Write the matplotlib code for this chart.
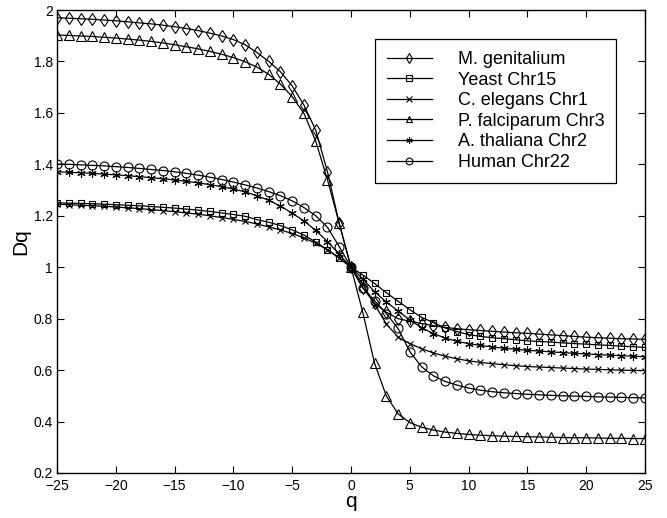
import matplotlib
matplotlib.use("Agg")
import matplotlib.pyplot as plt
from matplotlib.ticker import FuncFormatter

plt.rcParams['font.family'] = ['Liberation Sans', 'DejaVu Sans']

q = list(range(-25, 26))

m_genitalium = [1.970, 1.968, 1.966, 1.964, 1.961, 1.958, 1.954, 1.950, 1.946, 1.941,
                1.935, 1.928, 1.920, 1.910, 1.899, 1.885, 1.865, 1.835, 1.800, 1.760,
                1.705, 1.630, 1.533, 1.371, 1.170, 1.000,
                0.920, 0.860, 0.825, 0.800, 0.790, 0.781, 0.773, 0.766, 0.761, 0.757,
                0.754, 0.751, 0.748, 0.745, 0.743, 0.740, 0.737, 0.734, 0.731, 0.728,
                0.726, 0.724, 0.722, 0.721, 0.720]

yeast_chr15 = [1.250, 1.249, 1.248, 1.247, 1.245, 1.243, 1.241, 1.239, 1.236, 1.233,
               1.230, 1.226, 1.222, 1.217, 1.211, 1.205, 1.198, 1.185, 1.175, 1.162,
               1.145, 1.125, 1.098, 1.068, 1.035, 1.000,
               0.970, 0.937, 0.901, 0.868, 0.835, 0.805, 0.785, 0.764, 0.750, 0.738,
               0.731, 0.726, 0.722, 0.718, 0.714, 0.711, 0.709, 0.706, 0.703, 0.701,
               0.698, 0.696, 0.693, 0.691, 0.688]

c_elegans_chr1 = [1.245, 1.243, 1.241, 1.239, 1.237, 1.234, 1.231, 1.228, 1.224, 1.220,
                  1.216, 1.211, 1.206, 1.200, 1.193, 1.186, 1.178, 1.168, 1.157, 1.145,
                  1.131, 1.114, 1.093, 1.068, 1.037, 1.000,
                  0.935, 0.855, 0.780, 0.728, 0.703, 0.683, 0.667, 0.654, 0.644, 0.636,
                  0.630, 0.625, 0.621, 0.617, 0.614, 0.612, 0.610, 0.608, 0.606, 0.604,
                  0.603, 0.601, 0.600, 0.599, 0.598]

p_falciparum_chr3 = [1.903, 1.901, 1.899, 1.897, 1.894, 1.891, 1.887, 1.883, 1.878, 1.872,
                     1.865, 1.857, 1.849, 1.839, 1.828, 1.815, 1.799, 1.778, 1.750, 1.712,
                     1.663, 1.598, 1.490, 1.340, 1.170, 1.000,
                     0.825, 0.627, 0.500, 0.430, 0.396, 0.378, 0.367, 0.359, 0.354, 0.350,
                     0.347, 0.345, 0.343, 0.342, 0.341, 0.340, 0.339, 0.338, 0.337, 0.337,
                     0.336, 0.335, 0.335, 0.334, 0.334]

a_thaliana_chr2 = [1.371, 1.369, 1.367, 1.365, 1.362, 1.359, 1.356, 1.352, 1.348, 1.344,
                   1.339, 1.334, 1.328, 1.321, 1.313, 1.304, 1.293, 1.278, 1.260, 1.238,
                   1.210, 1.180, 1.143, 1.100, 1.050, 1.000,
                   0.955, 0.905, 0.865, 0.830, 0.795, 0.765, 0.742, 0.725, 0.712, 0.703,
                   0.696, 0.690, 0.685, 0.681, 0.677, 0.674, 0.671, 0.668, 0.665, 0.663,
                   0.660, 0.658, 0.656, 0.654, 0.652]

human_chr22 = [1.401, 1.400, 1.398, 1.396, 1.394, 1.391, 1.388, 1.384, 1.380, 1.376,
               1.371, 1.365, 1.358, 1.350, 1.341, 1.331, 1.320, 1.308, 1.294, 1.278,
               1.258, 1.232, 1.200, 1.155, 1.080, 1.000,
               0.920, 0.870, 0.820, 0.762, 0.672, 0.613, 0.578, 0.556, 0.542, 0.530,
               0.522, 0.516, 0.512, 0.509, 0.506, 0.504, 0.502, 0.500, 0.499, 0.498,
               0.496, 0.495, 0.494, 0.493, 0.492]

labels = ["M. genitalium", "Yeast Chr15", "C. elegans Chr1",
          "P. falciparum Chr3", "A. thaliana Chr2", "Human Chr22"]
series = [m_genitalium, yeast_chr15, c_elegans_chr1,
          p_falciparum_chr3, a_thaliana_chr2, human_chr22]
markers = ['d', 's', 'x', '^', (6, 2, 0), 'o']
msizes = [6.5, 5, 5, 6.5, 6, 6.5]

fig = plt.figure(figsize=(6.67, 5.18), dpi=100)
ax = fig.add_axes([57/667, 45/518, 588/667, 463/518])

for y, lab, mk, ms in zip(series, labels, markers, msizes):
    ax.plot(q, y, color='black', linewidth=0.9, marker=mk, markersize=ms,
            markerfacecolor='none', markeredgecolor='black', markeredgewidth=0.8,
            label=lab)

ax.set_xlim(-25, 25)
ax.set_ylim(0.2, 2.0)
ax.set_xticks(range(-25, 26, 5))
ax.set_yticks([0.2 * i for i in range(1, 11)])
ax.yaxis.set_major_formatter(FuncFormatter(lambda v, p: f"{v:g}" if abs(v - round(v)) > 1e-9 else f"{int(round(v))}"))
ax.tick_params(direction='in', top=True, right=True, length=5, width=0.8, labelsize=10)
ax.tick_params(axis='x', pad=4.5)
ax.tick_params(axis='y', pad=3)
for s in ax.spines.values():
    s.set_linewidth(1.0)

ax.set_xlabel('q', fontsize=15, labelpad=-1)
ax.set_ylabel('Dq', fontsize=15, labelpad=2)

leg = ax.legend(loc='upper right', bbox_to_anchor=(0.951, 0.937), fontsize=13,
                frameon=True, fancybox=False, edgecolor='black', framealpha=1,
                handlelength=2.5, handletextpad=1.45, labelspacing=0.2,
                borderpad=0.65, borderaxespad=0, markerscale=0.75)
leg.get_frame().set_linewidth(0.9)

fig.savefig('out.png', dpi=100)
